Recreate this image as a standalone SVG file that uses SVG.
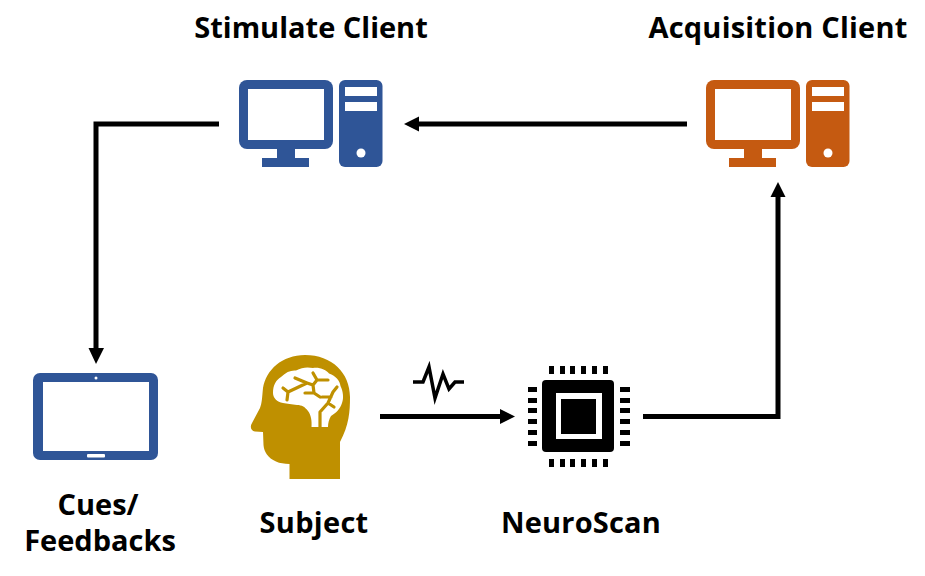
<svg xmlns="http://www.w3.org/2000/svg" width="925" height="576" viewBox="0 0 925 576">
<style>
text{font-family:"Open Sans","Noto Sans","Liberation Sans",sans-serif;font-weight:700;font-size:29px;fill:#000;text-anchor:middle}
.c{fill:none;stroke:#000;stroke-width:5}
.w{fill:#fff}
.b{fill:#2f5597}
.o{fill:#c55a11}
.k{fill:#000}
.g{fill:#bf9000}
</style>
<defs>
<g id="pc">
<rect x="239" y="80" width="94" height="69" rx="8"/>
<rect x="277" y="148" width="18" height="11"/>
<rect x="262" y="158" width="47" height="9"/>
<rect x="339" y="80" width="43.500" height="87" rx="6"/>
<rect class="w" x="248" y="89" width="76" height="51"/>
<rect class="w" x="345" y="87" width="32" height="9"/>
<rect class="w" x="345" y="102" width="32" height="9"/>
<circle class="w" cx="361" cy="153" r="4.500"/>
</g>
</defs>
<rect width="925" height="576" fill="#fff"/>
<g id="connectors">
<path class="c" d="M219 124H96V350"/>
<path class="k" d="M88.500 348H104L96 364Z"/>
<path class="c" d="M687 124H418"/>
<path class="k" d="M404 124L419 116.500V131.500Z"/>
<path class="c" d="M380 416.500H501"/>
<path class="k" d="M500 409L515 416.500L500 424Z"/>
<path class="c" d="M643 416.500H778V195"/>
<path class="k" d="M770.500 197L778 182L785.500 197Z"/>
</g>
<g id="stimulate-client">
<use href="#pc" class="b"/>
<text x="311" y="38">Stimulate Client</text>
</g>
<g id="acquisition-client">
<use href="#pc" class="o" x="467"/>
<text x="778" y="38" letter-spacing=".2">Acquisition Client</text>
</g>
<g id="cues-feedbacks">
<rect class="b" x="33" y="373" width="125" height="87" rx="7"/>
<rect class="w" x="43" y="382" width="106" height="69"/>
<circle class="w" cx="96" cy="378" r="1.500"/>
<rect class="w" x="87" y="454" width="18" height="3.500" rx="1"/>
<text x="98" y="514.500">Cues/</text>
<text x="100" y="550.500">Feedbacks</text>
</g>
<g id="subject">
<path class="g" d="M289.500 479V464C284 463.500 280 463.500 276 461.500C268 458 264 452 263.500 445L263 432L255 431.500C251 431 250 427 251.500 424L260 408C262 403 262 398 263 388C266 370 282 355 305 355C332 355 350 373 350 397C350 412 349 425 340 442V479Z"/>
<path class="w" d="M273 393C273 385 276 380 281 377C286 372 291 370 296 370.500C302 367 308 367 313 368C320 367 326 370 329 373.500C336 376 340 381 340.500 386C343 391 344 398 342 403C340 409 336 413 331 416C329 419 328 423 328 427H311.500C312 421 311 415 308 411C305 407 302 405 297 405C292 404 287 404 283 403C277 402 273 398 273 393Z"/>
<path d="M287 400L288 392L283 388M288 392L307 383L295 378M307 383L313 385L317 380L313 373M317 380H328M313 385L314 393L305 393M314 393L320 397M320 427V412L328 403L333 392L337 387M328 403L334 407M331 397H322" fill="none" stroke="#bf9000" stroke-width="3.200" stroke-linecap="round" stroke-linejoin="round"/>
<text x="314" y="533" letter-spacing=".3">Subject</text>
</g>
<g id="neuroscan">
<rect class="k" x="542" y="380" width="72" height="72" rx="4"/>
<rect class="w" x="556" y="393" width="46" height="46"/>
<rect class="k" x="561" y="399" width="35" height="35"/>
<path class="k" d="M549 366h5v8h-5zM560 366h5v8h-5zM570 366h5v8h-5zM581 366h5v8h-5zM592 366h5v8h-5zM603 366h5v8h-5zM549 459h5v8h-5zM560 459h5v8h-5zM570 459h5v8h-5zM581 459h5v8h-5zM592 459h5v8h-5zM603 459h5v8h-5zM528 387h9v5h-9zM528 398h9v5h-9zM528 408h9v5h-9zM528 419h9v5h-9zM528 430h9v5h-9zM528 441h9v5h-9zM620 387h10v5h-10zM620 398h10v5h-10zM620 408h10v5h-10zM620 419h10v5h-10zM620 430h10v5h-10zM620 441h10v5h-10z"/>
<text x="581" y="533" letter-spacing=".2">NeuroScan</text>
</g>
<path d="M413 382H423L429 367L435 398L443 374L449 389L455 382H464" fill="none" stroke="#000" stroke-width="3.500"/>
</svg>
